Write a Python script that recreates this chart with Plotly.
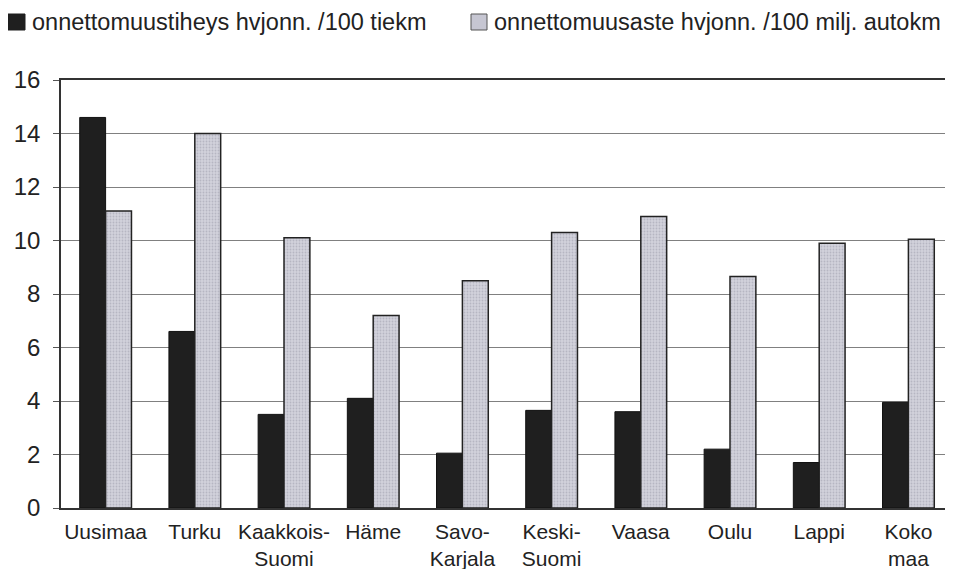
import plotly.graph_objects as go

categories = ["Uusimaa", "Turku", "Kaakkois-<br>Suomi", "Häme", "Savo-<br>Karjala",
              "Keski-<br>Suomi", "Vaasa", "Oulu", "Lappi", "Koko<br>maa"]
tiheys = [14.6, 6.6, 3.5, 4.1, 2.05, 3.65, 3.6, 2.2, 1.7, 3.95]
aste = [11.1, 14.0, 10.1, 7.2, 8.5, 10.3, 10.9, 8.65, 9.9, 10.05]
name_tiheys = "onnettomuustiheys hvjonn. /100 tiekm"
name_aste = "onnettomuusaste hvjonn. /100 milj. autokm"
y_ticks = [0, 2, 4, 6, 8, 10, 12, 14, 16]

font_family = "Liberation Sans, Arial, sans-serif"
# the page body has an 8px margin, so the figure is sized/offset to compensate
PAGE_OFF = 8
W, H = 953 - PAGE_OFF, 569 - PAGE_OFF
PLOT_L, PLOT_T, PLOT_B = 61, 80, 508   # page pixels of the plot area
dark_color = "#1f1f1f"
light_color = "#c6c6d2"

fig = go.Figure()
fig.add_trace(go.Bar(
    x=categories, y=tiheys, name=name_tiheys,
    marker=dict(color=dark_color, line=dict(color="#111111", width=1)),
))
fig.add_trace(go.Bar(
    x=categories, y=aste, name=name_aste,
    marker=dict(color=light_color, line=dict(color="#222222", width=1.5),
                pattern=dict(shape=".", fgcolor="#9a9aa8", bgcolor="#d2d2dc", size=3, solidity=0.3)),
))

plot_w = 953 - PLOT_L
plot_h = PLOT_B - PLOT_T


def px_x(x):
    return (x - PLOT_L) / plot_w


def px_y(y):
    return (PLOT_B - y) / plot_h


legend_items = [(8, 25, 30, name_tiheys, dark_color, None),
                (471, 487, 492, name_aste, light_color, "#555555")]
shapes = []
annotations = []
for x0, x1, tx, label, col, edge in legend_items:
    shapes.append(dict(type="rect", xref="paper", yref="paper",
                       x0=px_x(x0), x1=px_x(x1), y0=px_y(30), y1=px_y(14),
                       fillcolor=col, line=dict(color=edge or col, width=1)))
    annotations.append(dict(text=label, xref="paper", yref="paper", x=px_x(tx), y=px_y(22),
                            xanchor="left", yanchor="middle", showarrow=False,
                            font=dict(size=23.5, color="#222222")))

fig.update_layout(
    width=W, height=H,
    margin=dict(l=PLOT_L - PAGE_OFF, r=0, t=PLOT_T - PAGE_OFF, b=569 - PLOT_B,
                autoexpand=False),
    paper_bgcolor="white", plot_bgcolor="white",
    barmode="group", bargap=0.42, bargroupgap=0,
    font=dict(family=font_family, size=21, color="#222222"),
    showlegend=False,
    shapes=shapes, annotations=annotations,
    xaxis=dict(showline=True, linecolor="#333333", linewidth=1.5, mirror=True,
               tickfont=dict(size=21), ticks="", showgrid=False, ticklabelstandoff=4),
    yaxis=dict(range=[0, 16], tickvals=y_ticks, showline=True, linecolor="#333333",
               linewidth=1.5, mirror=True, ticks="outside", ticklen=6, tickcolor="#555555",
               showgrid=True, gridcolor="#808080", gridwidth=1, zeroline=False,
               tickfont=dict(size=24), ticklabelstandoff=8),
)

fig.write_html("out.html")
